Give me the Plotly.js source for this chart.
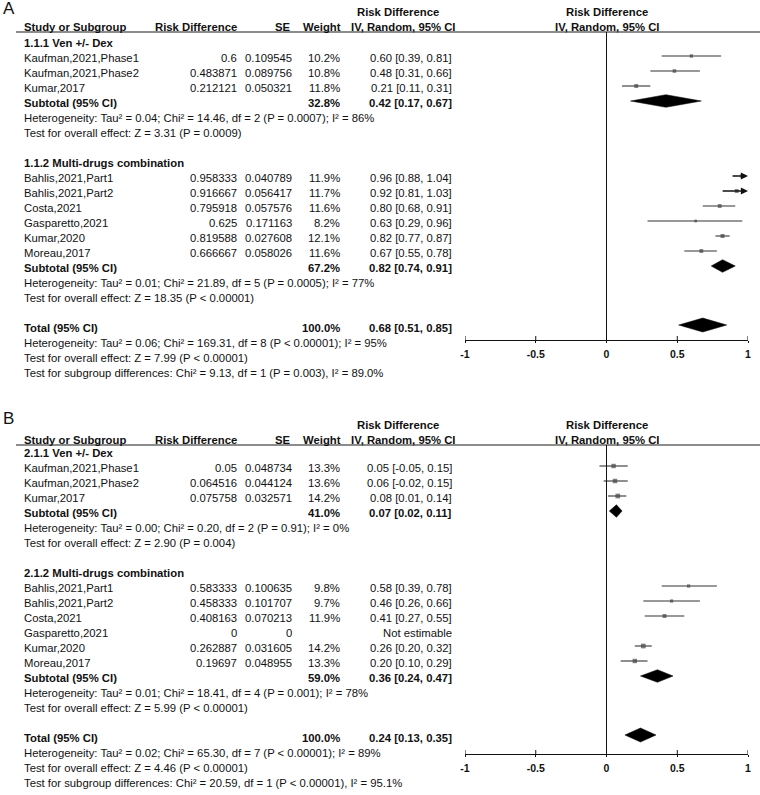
<!DOCTYPE html>
<html><head><meta charset="utf-8">
<script src="https://cdn.plot.ly/plotly-3.0.1.min.js"></script>
<style>html,body{margin:0;padding:0;background:#fff}#chart{width:760px;height:795px}</style>
</head><body><div id="chart"></div>
<script>
// ---------- Panel A data ----------
const A_groups = ['1.1.1 Ven +/- Dex', '1.1.2 Multi-drugs combination'];
const A_studies = ['Kaufman,2021,Phase1','Kaufman,2021,Phase2','Kumar,2017','Bahlis,2021,Part1','Bahlis,2021,Part2','Costa,2021','Gasparetto,2021','Kumar,2020','Moreau,2017'];
const A_groupOf = [0,0,0,1,1,1,1,1,1];
const A_rd = [0.6,0.483871,0.212121,0.958333,0.916667,0.795918,0.625,0.819588,0.666667];
const A_se = [0.109545,0.089756,0.050321,0.040789,0.056417,0.057576,0.171163,0.027608,0.058026];
const A_weight = [10.2,10.8,11.8,11.9,11.7,11.6,8.2,12.1,11.6];
const A_est = [0.60,0.48,0.21,0.96,0.92,0.80,0.63,0.82,0.67];
const A_lo = [0.39,0.31,0.11,0.88,0.81,0.68,0.29,0.77,0.55];
const A_hi = [0.81,0.66,0.31,1.04,1.03,0.91,0.96,0.87,0.78];
const A_subWeight = [32.8, 67.2];
const A_subEst = [0.42, 0.82];
const A_subLo = [0.17, 0.74];
const A_subHi = [0.67, 0.91];
const A_subHet = ['Heterogeneity: Tau² = 0.04; Chi² = 14.46, df = 2 (P = 0.0007); I² = 86%',
                  'Heterogeneity: Tau² = 0.01; Chi² = 21.89, df = 5 (P = 0.0005); I² = 77%'];
const A_subTest = ['Test for overall effect: Z = 3.31 (P = 0.0009)',
                   'Test for overall effect: Z = 18.35 (P &lt; 0.00001)'];
const A_total = {w: 100.0, est: 0.68, lo: 0.51, hi: 0.85};
const A_totalText = ['Heterogeneity: Tau² = 0.06; Chi² = 169.31, df = 8 (P &lt; 0.00001); I² = 95%',
                     'Test for overall effect: Z = 7.99 (P &lt; 0.00001)',
                     'Test for subgroup differences: Chi² = 9.13, df = 1 (P = 0.003), I² = 89.0%'];

// ---------- Panel B data ----------
const B_groups = ['2.1.1 Ven +/- Dex', '2.1.2 Multi-drugs combination'];
const B_studies = ['Kaufman,2021,Phase1','Kaufman,2021,Phase2','Kumar,2017','Bahlis,2021,Part1','Bahlis,2021,Part2','Costa,2021','Gasparetto,2021','Kumar,2020','Moreau,2017'];
const B_groupOf = [0,0,0,1,1,1,1,1,1];
const B_rd = [0.05,0.064516,0.075758,0.583333,0.458333,0.408163,0,0.262887,0.19697];
const B_se = [0.048734,0.044124,0.032571,0.100635,0.101707,0.070213,0,0.031605,0.048955];
const B_weight = [13.3,13.6,14.2,9.8,9.7,11.9,null,14.2,13.3];
const B_est = [0.05,0.06,0.08,0.58,0.46,0.41,null,0.26,0.20];
const B_lo = [-0.05,-0.02,0.01,0.39,0.26,0.27,null,0.20,0.10];
const B_hi = [0.15,0.15,0.14,0.78,0.66,0.55,null,0.32,0.29];
const B_subWeight = [41.0, 59.0];
const B_subEst = [0.07, 0.36];
const B_subLo = [0.02, 0.24];
const B_subHi = [0.11, 0.47];
const B_subHet = ['Heterogeneity: Tau² = 0.00; Chi² = 0.20, df = 2 (P = 0.91); I² = 0%',
                  'Heterogeneity: Tau² = 0.01; Chi² = 18.41, df = 4 (P = 0.001); I² = 78%'];
const B_subTest = ['Test for overall effect: Z = 2.90 (P = 0.004)',
                   'Test for overall effect: Z = 5.99 (P &lt; 0.00001)'];
const B_total = {w: 100.0, est: 0.24, lo: 0.13, hi: 0.35};
const B_totalText = ['Heterogeneity: Tau² = 0.02; Chi² = 65.30, df = 7 (P &lt; 0.00001); I² = 89%',
                     'Test for overall effect: Z = 4.46 (P &lt; 0.00001)',
                     'Test for subgroup differences: Chi² = 20.59, df = 1 (P &lt; 0.00001), I² = 95.1%'];

const tickVals = [-1, -0.5, 0, 0.5, 1];
const tickText = ['-1', '-0.5', '0', '0.5', '1'];

// ---------- layout constants ----------
const W = 760, H = 795;
const FONT = 'Liberation Sans, Arial, Helvetica, sans-serif';
const FS = 11.3;
const TXT = '#111';
const COL = {name: 23, rd: 238, se: 293, w: 341, ci: 453, ciHdr: 403, riskHdr: 398, plotHdr: 607};
const STEP = 15;

const annotations = [];
const shapes = [];
const traces = [];

function txt(s, x, y, anchor, bold, size) {
  annotations.push({
    text: bold ? '<b>' + s + '</b>' : s,
    xref: 'paper', yref: 'paper', x: x / W, y: 1 - y / H,
    xanchor: anchor, yanchor: 'middle', showarrow: false, borderpad: 0,
    font: {family: FONT, size: size || FS, color: TXT}
  });
}
function fmt2(v) { return v.toFixed(2); }
function ciStr(e, l, h) { return fmt2(e) + ' [' + fmt2(l) + ', ' + fmt2(h) + ']'; }

function panel(P) {
  const xa = P.xa, ya = P.ya;
  txt(P.letter, 2, P.letterY, 'left', false, 17);
  // headers
  txt('Risk Difference', COL.riskHdr, P.hdr1, 'center', true);
  txt('Risk Difference', COL.plotHdr, P.hdr1, 'center', true);
  txt('Study or Subgroup', COL.name, P.hdr2, 'left', true);
  txt('Risk Difference', COL.rd, P.hdr2, 'right', true);
  txt('SE', COL.se - 1, P.hdr2, 'right', true);
  txt('Weight', COL.w + 1, P.hdr2, 'right', true);
  txt('IV, Random, 95% CI', COL.ciHdr, P.hdr2, 'center', true);
  txt('IV, Random, 95% CI', COL.plotHdr, P.hdr2, 'center', true);
  shapes.push({type: 'line', xref: 'paper', yref: 'paper', x0: 16 / W, x1: 1, y0: 1 - P.line / H, y1: 1 - P.line / H,
               line: {color: '#666', width: 1.4}});
  // zero line
  shapes.push({type: 'line', xref: xa, yref: ya, x0: 0, x1: 0, y0: P.line, y1: P.axis, line: {color: '#111', width: 1}});
  // upper half of the axis ticks (ticks cross the axis line)
  for (const tv of tickVals) {
    shapes.push({type: 'line', xref: xa, yref: ya, x0: tv, x1: tv, y0: P.axis - 4, y1: P.axis, line: {color: '#111', width: 1}});
  }

  let row = 0;
  const rowY = r => P.base + STEP * r;
  const lineX = [], lineY = [], sqX = [], sqY = [], sqS = [];
  const diamonds = [];
  for (let g = 0; g < 2; g++) {
    txt(P.groups[g], COL.name, rowY(row), 'left', true); row++;
    for (let i = 0; i < P.studies.length; i++) {
      if (P.groupOf[i] !== g) continue;
      const y = rowY(row);
      txt(P.studies[i], COL.name, y, 'left', false);
      txt(String(P.rd[i]), COL.rd, y, 'right', false);
      txt(String(P.se[i]), COL.se, y, 'right', false);
      if (P.weight[i] !== null) {
        txt(P.weight[i].toFixed(1) + '%', COL.w, y, 'right', false);
        txt(ciStr(P.est[i], P.lo[i], P.hi[i]), COL.ci, y, 'right', false);
        const my = y - 2;
        if (P.hi[i] > 1) {
          annotations.push({xref: xa, yref: ya, axref: xa, ayref: ya, x: 1, y: my, ax: P.lo[i], ay: my,
                            text: '', showarrow: true, arrowhead: 2, arrowsize: 1.1, arrowwidth: 1.3, arrowcolor: '#111', standoff: 0});
        } else {
          lineX.push(P.lo[i], P.hi[i], null); lineY.push(my, my, null);
        }
        sqX.push(P.est[i]); sqY.push(my); sqS.push(P.weight[i] * 0.33);
      } else {
        txt('Not estimable', COL.ci, y, 'right', false);
      }
      row++;
    }
    const ys = rowY(row);
    txt('Subtotal (95% CI)', COL.name, ys, 'left', true);
    txt(P.subWeight[g].toFixed(1) + '%', COL.w, ys, 'right', true);
    txt(ciStr(P.subEst[g], P.subLo[g], P.subHi[g]), COL.ci, ys, 'right', true);
    diamonds.push([P.subEst[g], P.subLo[g], P.subHi[g], ys - 2, 6.3]);
    row++;
    txt(P.subHet[g], COL.name, rowY(row), 'left', false); row++;
    txt(P.subTest[g], COL.name, rowY(row), 'left', false); row++;
    row++;
  }
  const yt = rowY(row);
  txt('Total (95% CI)', COL.name, yt, 'left', true);
  txt(P.total.w.toFixed(1) + '%', COL.w, yt, 'right', true);
  txt(ciStr(P.total.est, P.total.lo, P.total.hi), COL.ci, yt, 'right', true);
  diamonds.push([P.total.est, P.total.lo, P.total.hi, yt - 3, 7]);
  row++;
  for (const s of P.totalText) { txt(s, COL.name, rowY(row), 'left', false); row++; }

  traces.push({type: 'scatter', mode: 'lines', x: lineX, y: lineY, xaxis: xa, yaxis: ya,
               line: {color: '#333', width: 1.1}, hoverinfo: 'skip', showlegend: false, cliponaxis: false});
  traces.push({type: 'scatter', mode: 'markers', x: sqX, y: sqY, xaxis: xa, yaxis: ya,
               marker: {symbol: 'square', size: sqS, color: '#444', line: {width: 0}},
               hoverinfo: 'skip', showlegend: false, cliponaxis: false});
  for (const d of diamonds) {
    const [e, l, h, y, hh] = d;
    traces.push({type: 'scatter', mode: 'lines', x: [l, e, h, e, l], y: [y, y - hh, y, y + hh, y],
                 xaxis: xa, yaxis: ya, fill: 'toself', fillcolor: '#000', line: {color: '#000', width: 0.5},
                 hoverinfo: 'skip', showlegend: false, cliponaxis: false});
  }
}

const PA = {letter: 'A', letterY: 9, hdr1: 12, hdr2: 27, line: 32, base: 43, axis: 340, xa: 'x', ya: 'y',
  groups: A_groups, studies: A_studies, groupOf: A_groupOf, rd: A_rd, se: A_se, weight: A_weight,
  est: A_est, lo: A_lo, hi: A_hi, subWeight: A_subWeight, subEst: A_subEst, subLo: A_subLo, subHi: A_subHi,
  subHet: A_subHet, subTest: A_subTest, total: A_total, totalText: A_totalText};
const PB = {letter: 'B', letterY: 418, hdr1: 425, hdr2: 440, line: 445, base: 453, axis: 754, xa: 'x2', ya: 'y2',
  groups: B_groups, studies: B_studies, groupOf: B_groupOf, rd: B_rd, se: B_se, weight: B_weight,
  est: B_est, lo: B_lo, hi: B_hi, subWeight: B_subWeight, subEst: B_subEst, subLo: B_subLo, subHi: B_subHi,
  subHet: B_subHet, subTest: B_subTest, total: B_total, totalText: B_totalText};
panel(PA);
panel(PB);

const xDomain = [465 / W, 748 / W];
function xAxis(anchor) {
  return {domain: xDomain, range: [-1, 1], anchor: anchor, showgrid: false, zeroline: false,
          showline: true, linecolor: '#111', linewidth: 1, ticks: 'outside', ticklen: 2, tickwidth: 1, tickcolor: '#111',
          tickvals: tickVals, ticktext: tickText, ticklabelstandoff: 2,
          tickfont: {family: FONT, size: 10.5, color: TXT, weight: 'bold'}, fixedrange: true};
}
const layout = {
  width: W, height: H, margin: {l: 0, r: 0, t: 0, b: 0}, paper_bgcolor: '#fff', plot_bgcolor: 'rgba(0,0,0,0)',
  showlegend: false,
  xaxis: xAxis('y'),
  xaxis2: xAxis('y2'),
  yaxis: {domain: [1 - PA.axis / H, 1], range: [PA.axis, 0], visible: false, fixedrange: true},
  yaxis2: {domain: [1 - PB.axis / H, 1 - 405 / H], range: [PB.axis, 405], visible: false, fixedrange: true},
  annotations: annotations, shapes: shapes
};
Plotly.newPlot('chart', traces, layout, {displayModeBar: false, staticPlot: true});
</script></body></html>
